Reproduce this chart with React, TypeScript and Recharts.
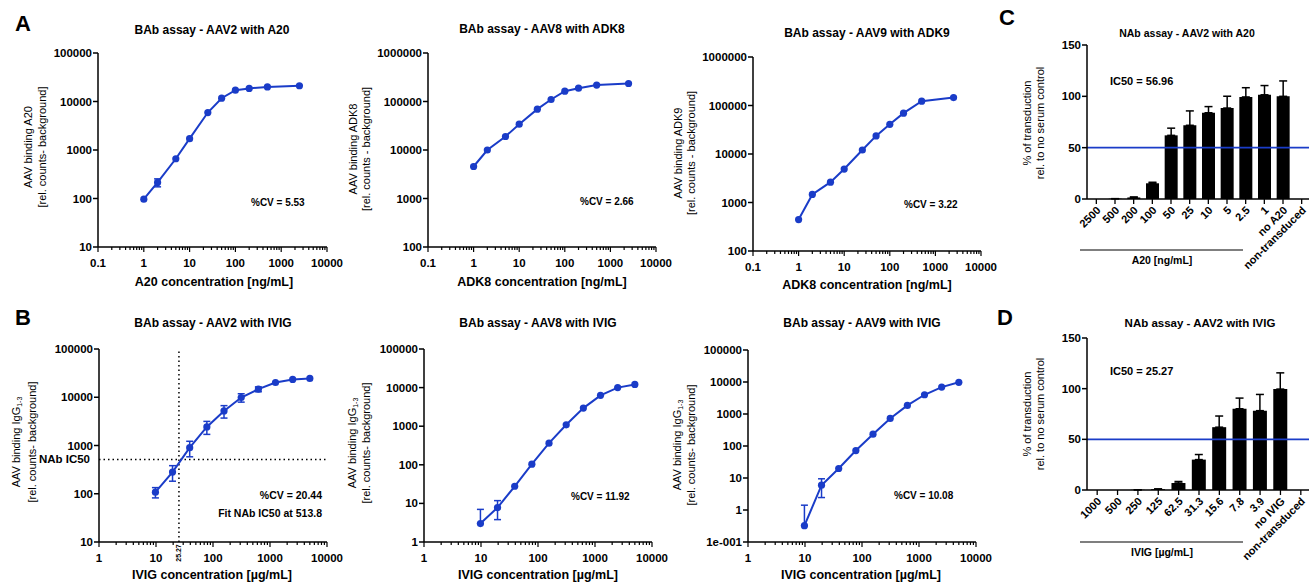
import React from 'react';
import { LineChart, Line, XAxis, YAxis, ErrorBar, ReferenceLine, BarChart, Bar } from 'recharts';

const BLUE = '#1a3cc8';
const FONT = '"Liberation Sans", Arial, Helvetica, sans-serif';

// ---------- Row A: BAb assays with monoclonal antibodies ----------
const aConc = [1, 2, 5, 10, 25, 50, 100, 200, 500, 2500];
const a20Binding = [97, 214, 660, 1715, 5920, 11700, 17150, 18600, 20000, 21100];
const a20Err = [0, 40, 0, 0, 0, 0, 0, 0, 0, 0];
const adk8Binding = [4570, 10000, 19000, 34000, 69500, 110000, 163000, 188000, 218000, 235000];
const adk8Err = [0, 0, 0, 0, 0, 0, 0, 0, 0, 0];
const adk9Binding = [445, 1465, 2630, 4900, 12100, 23600, 41000, 69500, 123000, 146000];
const adk9Err = [0, 0, 0, 0, 0, 0, 0, 0, 0, 0];

// ---------- Row B: BAb assays with IVIG ----------
const bConc = [9.77, 19.5, 39, 78, 156, 312.5, 625, 1250, 2500, 5000];
const ivigAav2 = [108, 282, 903, 2430, 5200, 9870, 14700, 20200, 23400, 24600];
const ivigAav2Err = [26, 100, 320, 730, 1500, 1950, 1700, 0, 0, 0];
const ivigAav8 = [3.0, 7.8, 27.8, 104, 364, 1087, 2945, 6300, 10000, 12100];
const ivigAav8Err: (number | [number, number])[] = [[0, 4], 4, 0, 0, 0, 0, 0, 0, 0, 0];
const ivigAav9 = [0.324, 5.95, 19.8, 72, 234, 726, 1860, 3990, 6930, 9770];
const ivigAav9Err: (number | [number, number])[] = [[0, 1.09], 3.5, 0, 0, 0, 0, 0, 0, 0, 0];
const nabIC50Conc = 25.27;
const nabIC50Binding = 513.8;

// ---------- Axis ticks ----------
const xMajorsA = [0.1, 1, 10, 100, 1000, 10000];
const xMajorsB = [1, 10, 100, 1000, 10000];
const yMajorsA1 = [10, 100, 1000, 10000, 100000];
const yMajorsA23 = [100, 1000, 10000, 100000, 1000000];
const yMajorsB1 = [10, 100, 1000, 10000, 100000];
const yMajorsB2 = [1, 10, 100, 1000, 10000, 100000];
const yMajorsB3 = [0.1, 1, 10, 100, 1000, 10000, 100000];
const minorSteps = [2, 3, 4, 5, 6, 7, 8, 9];

// ---------- Panels C and D: NAb assays ----------
const cCats = ['2500', '500', '200', '100', '50', '25', '10', '5', '2.5', '1', 'no A20', 'non-transduced'];
const cVals = [0, 0.3, 1.5, 15.3, 62, 71.8, 84, 88.6, 99.4, 101.5, 100, 0];
const cErr = [0, 0, 0.5, 1, 7, 14, 6, 11.5, 9, 9, 15, 0];
const dCats = ['1000', '500', '250', '125', '62.5', '31.3', '15.6', '7.8', '3.9', 'no IVIG', 'non-transduced'];
const dVals = [0, 0, 0.2, 0.8, 6.9, 30, 62, 80.2, 78.3, 99.6, 0];
const dErr = [0, 0, 0, 0.3, 1.5, 5, 11, 10.5, 16, 16, 0];
const barTicks = [0, 50, 100, 150];

const withMinors = (majors: number[]) => {
  const out: number[] = [];
  majors.forEach((m, i) => {
    out.push(m);
    if (i < majors.length - 1) minorSteps.forEach((k) => out.push(m * k));
  });
  return out;
};

const fmtNum = (v: number) => (v < 1 ? String(Number(v.toPrecision(3))) : String(Math.round(v)));
const fmtY = (v: number) => (v < 1 ? '1e-001' : String(Math.round(v)));

const LogXTick = (props: any) => {
  const { x, y, payload, majors } = props;
  const v = payload.value;
  const isMajor = majors.some((m: number) => Math.abs(m - v) / m < 1e-6);
  return (
    <g>
      <line x1={x} x2={x} y1={y} y2={y + (isMajor ? 5 : 3)} stroke="#000" strokeWidth={1.2} />
      {isMajor && (
        <text x={x} y={y + 19.5} textAnchor="middle" fontSize={11.5} fontWeight="bold" fontFamily={FONT} fill="#000">
          {fmtNum(v)}
        </text>
      )}
    </g>
  );
};

type Err = number | [number, number];

function LogPanel(props: {
  plot: [number, number, number, number];
  xDomain: [number, number];
  xMajors: number[];
  yDomain: [number, number];
  yMajors: number[];
  xs: number[];
  ys: number[];
  errs: Err[];
  children?: React.ReactNode;
}) {
  const { plot, xDomain, xMajors, yDomain, yMajors, xs, ys, errs, children } = props;
  const [pl, pt, pr, pb] = plot;
  const data = xs.map((x, i) => ({ x, y: ys[i], e: errs[i] }));
  const W = pr - pl + 60 + 25;
  const H = pb - pt + 10 + 40;
  const xTicks = withMinors(xMajors);
  return (
    <div style={{ position: 'absolute', left: pl - 60, top: pt - 10 }}>
      <LineChart width={W} height={H} data={data} margin={{ top: 10, right: 25, left: 0, bottom: 0 }}>
        <XAxis
          dataKey="x"
          type="number"
          scale="log"
          domain={xDomain}
          allowDataOverflow
          ticks={xTicks}
          interval={0}
          height={40}
          tickLine={false}
          tickSize={0}
          tickMargin={0}
          axisLine={{ stroke: '#000', strokeWidth: 1.5 }}
          tick={(p: any) => <LogXTick {...p} majors={xMajors} />}
        />
        <YAxis
          type="number"
          scale="log"
          domain={yDomain}
          allowDataOverflow
          ticks={yMajors}
          interval={0}
          width={60}
          tickSize={5}
          tickMargin={1}
          tickLine={{ stroke: '#000', strokeWidth: 1.5 }}
          axisLine={{ stroke: '#000', strokeWidth: 1.5 }}
          tick={{ fill: '#000', fontSize: 11.5, fontWeight: 'bold', fontFamily: FONT }}
          tickFormatter={fmtY}
        />
        {children}
        <Line
          dataKey="y"
          type="linear"
          stroke={BLUE}
          strokeWidth={2}
          dot={{ r: 3.6, fill: BLUE, stroke: BLUE, strokeWidth: 0 }}
          activeDot={false}
          isAnimationActive={false}
        >
          <ErrorBar dataKey="e" direction="y" width={3.5} stroke={BLUE} strokeWidth={1.5} isAnimationActive={false} />
        </Line>
      </LineChart>
    </div>
  );
}

const RotTick = (props: any) => {
  const { x, y, payload } = props;
  return (
    <g transform={`translate(${x + 5},${y + 7})`}>
      <text transform="rotate(-45)" textAnchor="end" fontSize={11} fontWeight="bold" fontFamily={FONT} fill="#000">
        {payload.value}
      </text>
    </g>
  );
};

function BarPanel(props: { plot: [number, number, number, number]; cats: string[]; vals: number[]; errs: number[]; barSize: number }) {
  const { plot, cats, vals, errs, barSize } = props;
  const [pl, pt, pr, pb] = plot;
  const data = cats.map((c, i) => ({ c, v: vals[i], e: [0, errs[i]] }));
  const W = pr - pl + 40;
  const H = pb - pt + 10 + 80;
  return (
    <div style={{ position: 'absolute', left: pl - 40, top: pt - 10 }}>
      <BarChart width={W} height={H} data={data} margin={{ top: 10, right: 0, left: 0, bottom: 0 }}>
        <XAxis
          dataKey="c"
          type="category"
          interval={0}
          height={80}
          tickSize={5}
          tickMargin={0}
          tickLine={{ stroke: '#000', strokeWidth: 1.3 }}
          axisLine={{ stroke: '#000', strokeWidth: 1.5 }}
          tick={<RotTick />}
        />
        <YAxis
          type="number"
          domain={[0, 150]}
          ticks={barTicks}
          interval={0}
          width={40}
          tickSize={5}
          tickMargin={1}
          tickLine={{ stroke: '#000', strokeWidth: 1.5 }}
          axisLine={{ stroke: '#000', strokeWidth: 1.5 }}
          tick={{ fill: '#000', fontSize: 11.5, fontWeight: 'bold', fontFamily: FONT }}
        />
        <Bar dataKey="v" fill="#000" barSize={barSize} isAnimationActive={false}>
          <ErrorBar dataKey="e" direction="y" width={4} stroke="#000" strokeWidth={1.5} isAnimationActive={false} />
        </Bar>
        <ReferenceLine y={50} stroke={BLUE} strokeWidth={1.6} />
      </BarChart>
    </div>
  );
}

const IcXLabel = (props: any) => {
  const vb = props.viewBox || {};
  const x = vb.x ?? 0;
  const yb = Math.max(vb.y ?? 0, (vb.y ?? 0) + (vb.height ?? 0));
  return (
    <text
      transform={`translate(${x},${yb + 11}) rotate(-90)`}
      textAnchor="middle"
      dominantBaseline="central"
      fontSize={7}
      fontWeight="bold"
      fontFamily={FONT}
      fill="#000"
    >
      {String(nabIC50Conc)}
    </text>
  );
};

const IcYLabel = (props: any) => {
  const vb = props.viewBox || {};
  const x = Math.min(vb.x ?? 0, (vb.x ?? 0) + (vb.width ?? 0));
  const y = vb.y ?? 0;
  return (
    <text x={x - 9} y={y} textAnchor="end" dominantBaseline="central" fontSize={11.5} fontWeight="bold" fontFamily={FONT} fill="#000">
      NAb IC50
    </text>
  );
};

const T = (p: { x: number; y: number; size: number; bold?: boolean; anchor?: string; children: React.ReactNode }) => (
  <text
    x={p.x}
    y={p.y}
    fontSize={p.size}
    fontWeight={p.bold ? 'bold' : 'normal'}
    textAnchor={(p.anchor as any) || 'middle'}
    dominantBaseline="central"
    fontFamily={FONT}
    fill="#000"
  >
    {p.children}
  </text>
);

const VT = (p: { x: number; y: number; size: number; children: React.ReactNode }) => (
  <text
    transform={`translate(${p.x},${p.y}) rotate(-90)`}
    fontSize={p.size}
    textAnchor="middle"
    dominantBaseline="central"
    fontFamily={FONT}
    fill="#000"
  >
    {p.children}
  </text>
);

const IgG = () => (
  <>
    AAV binding  IgG
    <tspan fontSize={7} dy={3}>
      1-3
    </tspan>
  </>
);

export default function App() {
  return (
    <div
      style={{
        position: 'absolute',
        left: 0,
        top: 0,
        width: 1309,
        height: 584,
        overflow: 'hidden',
        background: '#fff',
        fontFamily: FONT,
      }}
    >
      <style>{`.recharts-surface{overflow:visible}`}</style>
      <LogPanel plot={[98, 53, 327, 247]} xDomain={[0.1, 10000]} xMajors={xMajorsA} yDomain={[10, 100000]} yMajors={yMajorsA1} xs={aConc} ys={a20Binding} errs={a20Err} />
      <LogPanel plot={[428, 53, 656, 247]} xDomain={[0.1, 10000]} xMajors={xMajorsA} yDomain={[100, 1000000]} yMajors={yMajorsA23} xs={aConc} ys={adk8Binding} errs={adk8Err} />
      <LogPanel plot={[753, 57, 981, 251]} xDomain={[0.1, 10000]} xMajors={xMajorsA} yDomain={[100, 1000000]} yMajors={yMajorsA23} xs={aConc} ys={adk9Binding} errs={adk9Err} />
      <LogPanel plot={[99, 349, 327, 542]} xDomain={[1, 10000]} xMajors={xMajorsB} yDomain={[10, 100000]} yMajors={yMajorsB1} xs={bConc} ys={ivigAav2} errs={ivigAav2Err}>
        <ReferenceLine x={nabIC50Conc} stroke="#000" strokeWidth={1.5} strokeDasharray="1.5 3" label={<IcXLabel />} />
        <ReferenceLine y={nabIC50Binding} stroke="#000" strokeWidth={1.5} strokeDasharray="1.5 3" label={<IcYLabel />} />
      </LogPanel>
      <LogPanel plot={[424, 349, 652, 542]} xDomain={[1, 10000]} xMajors={xMajorsB} yDomain={[1, 100000]} yMajors={yMajorsB2} xs={bConc} ys={ivigAav8} errs={ivigAav8Err} />
      <LogPanel plot={[748, 350, 976, 542]} xDomain={[1, 10000]} xMajors={xMajorsB} yDomain={[0.1, 100000]} yMajors={yMajorsB3} xs={bConc} ys={ivigAav9} errs={ivigAav9Err} />

      <BarPanel plot={[1087, 45, 1311, 199]} cats={cCats} vals={cVals} errs={cErr} barSize={13} />
      <BarPanel plot={[1087, 338, 1311, 490]} cats={dCats} vals={dVals} errs={dErr} barSize={14} />

      <svg width={1309} height={584} style={{ position: 'absolute', left: 0, top: 0, pointerEvents: 'none' }}>
        {/* panel letters */}
        <T x={23} y={23} size={22} bold>A</T>
        <T x={23} y={317} size={22} bold>B</T>
        <T x={1007} y={17} size={22} bold>C</T>
        <T x={1005} y={317} size={22} bold>D</T>

        {/* titles */}
        <T x={212} y={30} size={12} bold>BAb assay - AAV2 with A20</T>
        <T x={542} y={29} size={12} bold>BAb assay - AAV8 with ADK8</T>
        <T x={867} y={33} size={12} bold>BAb assay - AAV9 with ADK9</T>
        <T x={213} y={323} size={12} bold>BAb assay - AAV2 with IVIG</T>
        <T x={538} y={323} size={12} bold>BAb assay - AAV8 with IVIG</T>
        <T x={862} y={323} size={12} bold>BAb assay - AAV9 with IVIG</T>
        <T x={1187} y={33} size={10.5} bold>NAb assay - AAV2 with A20</T>
        <T x={1200} y={323} size={11.5} bold>NAb assay - AAV2 with IVIG</T>

        {/* x axis titles */}
        <T x={214} y={282} size={12.5} bold>A20 concentration [ng/mL]</T>
        <T x={542} y={282} size={12.5} bold>ADK8 concentration [ng/mL]</T>
        <T x={867} y={285} size={12.5} bold>ADK8 concentration [ng/mL]</T>
        <T x={212} y={575} size={12.5} bold>IVIG concentration [µg/mL]</T>
        <T x={538} y={575} size={12.5} bold>IVIG concentration [µg/mL]</T>
        <T x={861} y={575} size={12.5} bold>IVIG concentration [µg/mL]</T>

        {/* y axis titles */}
        <VT x={28} y={147} size={11}>AAV binding A20</VT>
        <VT x={42} y={147} size={11}>[rel. counts- background]</VT>
        <VT x={353} y={149} size={11}>AAV binding ADK8</VT>
        <VT x={366} y={149} size={11}>[rel. counts - background]</VT>
        <VT x={678} y={153} size={11}>AAV binding ADK9</VT>
        <VT x={691} y={153} size={11}>[rel. counts - background]</VT>
        <VT x={16} y={442} size={11}><IgG /></VT>
        <VT x={32} y={442} size={11}>[rel. counts- background]</VT>
        <VT x={352} y={443} size={11}><IgG /></VT>
        <VT x={366} y={443} size={11}>[rel. counts- background]</VT>
        <VT x={677} y={445} size={11}><IgG /></VT>
        <VT x={691} y={445} size={11}>[rel. counts- background]</VT>
        <VT x={1027} y={123} size={11}>% of transduction</VT>
        <VT x={1040} y={123} size={11}>rel. to no serum control</VT>
        <VT x={1027} y={414} size={11}>% of transduction</VT>
        <VT x={1040} y={414} size={11}>rel. to no serum control</VT>

        {/* annotations */}
        <T x={251} y={202} size={10} bold anchor="start">%CV = 5.53</T>
        <T x={580} y={201} size={10} bold anchor="start">%CV = 2.66</T>
        <T x={904} y={204} size={10} bold anchor="start">%CV = 3.22</T>
        <T x={322} y={495} size={10.5} bold anchor="end">%CV = 20.44</T>
        <T x={322} y={513} size={10.5} bold anchor="end">Fit NAb IC50 at 513.8</T>
        <T x={571} y={496} size={10} bold anchor="start">%CV = 11.92</T>
        <T x={894} y={495} size={10} bold anchor="start">%CV = 10.08</T>
        <T x={1110} y={81} size={11} bold anchor="start">IC50 = 56.96</T>
        <T x={1110} y={371} size={11} bold anchor="start">IC50 = 25.27</T>

        {/* concentration group brackets */}
        <line x1={1080} x2={1243} y1={250} y2={250} stroke="#000" strokeWidth={1.2} />
        <T x={1162} y={260} size={10.5} bold>A20 [ng/mL]</T>
        <line x1={1080} x2={1243} y1={542} y2={542} stroke="#000" strokeWidth={1.2} />
        <T x={1162} y={552} size={10.5} bold>IVIG [µg/mL]</T>
      </svg>
    </div>
  );
}
